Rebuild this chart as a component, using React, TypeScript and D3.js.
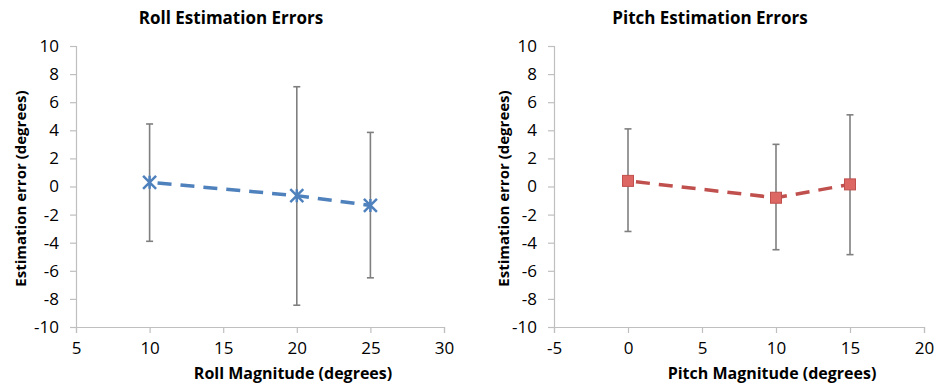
import { useEffect, useRef } from 'react';
import * as d3 from 'd3';

// Roll panel
const rollMagnitudes = [10, 20, 25];
const rollMeans = [0.3, -0.65, -1.35];
const rollUpper = [4.45, 7.1, 3.85];
const rollLower = [-3.9, -8.45, -6.5];

// Pitch panel
const pitchMagnitudes = [0, 10, 15];
const pitchMeans = [0.4, -0.8, 0.15];
const pitchUpper = [4.1, 3.0, 5.1];
const pitchLower = [-3.2, -4.5, -4.85];

const yTicks = [-10, -8, -6, -4, -2, 0, 2, 4, 6, 8, 10];
const rollXTicks = [5, 10, 15, 20, 25, 30];
const pitchXTicks = [-5, 0, 5, 10, 15, 20];

const FONT = '"Open Sans", "Liberation Sans", sans-serif';

interface PanelCfg {
    left: number;
    right: number;
    title: string;
    xLabel: string;
    xDomain: [number, number];
    xTicks: number[];
    xs: number[];
    means: number[];
    upper: number[];
    lower: number[];
    color: string;
    marker: 'star' | 'square';
}

export default function App() {
    const svgRef = useRef<SVGSVGElement>(null);

    useEffect(() => {
        if (!svgRef.current) return;
        const svg = d3.select(svgRef.current);
        svg.selectAll('*').remove();

        const top = 46;
        const bottom = 327;

        const panels: PanelCfg[] = [
            {
                left: 76, right: 444, title: 'Roll Estimation Errors', xLabel: 'Roll Magnitude (degrees)',
                xDomain: [5, 30], xTicks: rollXTicks, xs: rollMagnitudes,
                means: rollMeans, upper: rollUpper, lower: rollLower,
                color: '#4f81bd', marker: 'star'
            },
            {
                left: 554, right: 924, title: 'Pitch Estimation Errors', xLabel: 'Pitch Magnitude (degrees)',
                xDomain: [-5, 20], xTicks: pitchXTicks, xs: pitchMagnitudes,
                means: pitchMeans, upper: pitchUpper, lower: pitchLower,
                color: '#c0504d', marker: 'square'
            }
        ];

        panels.forEach((p, pi) => {
            const x = d3.scaleLinear().domain(p.xDomain).range([p.left, p.right]);
            const y = d3.scaleLinear().domain([-10, 10]).range([bottom, top]);
            const g = svg.append('g');
            const mid = (p.left + p.right) / 2;

            // Title
            g.append('text')
                .attr('x', mid - 29)
                .attr('y', 24)
                .attr('text-anchor', 'middle')
                .attr('font-family', FONT)
                .attr('font-weight', 700)
                .attr('font-size', '17px')
                .attr('fill', '#000')
                .text(p.title);

            // Y axis
            g.append('g')
                .attr('transform', `translate(${p.left},0)`)
                .call(d3.axisLeft(y).tickValues(yTicks).tickSize(6).tickPadding(11).tickFormat(d => String(d)))
                .call(a => a.select('.domain').attr('stroke', '#bfbfbf').attr('stroke-width', 1.2))
                .call(a => a.selectAll('.tick line').attr('stroke', '#bfbfbf').attr('stroke-width', 1.2))
                .call(a => a.selectAll('.tick text')
                    .attr('fill', '#000')
                    .attr('font-family', FONT)
                    .attr('font-size', '17px'));

            // X axis
            g.append('g')
                .attr('transform', `translate(0,${bottom})`)
                .call(d3.axisBottom(x).tickValues(p.xTicks).tickSize(6).tickPadding(9).tickFormat(d => String(d)))
                .call(a => a.select('.domain').attr('stroke', '#bfbfbf').attr('stroke-width', 1.2))
                .call(a => a.selectAll('.tick line').attr('stroke', '#bfbfbf').attr('stroke-width', 1.2))
                .call(a => a.selectAll('.tick text')
                    .attr('fill', '#000')
                    .attr('font-family', FONT)
                    .attr('font-size', '17px'));

            // Axis titles
            g.append('text')
                .attr('x', mid + 33)
                .attr('y', 379)
                .attr('text-anchor', 'middle')
                .attr('font-family', FONT)
                .attr('font-weight', 700)
                .attr('font-size', '16px')
                .text(p.xLabel);

            const yLabelX = pi === 0 ? 26 : 509;
            g.append('text')
                .attr('transform', `translate(${yLabelX},${(top + bottom) / 2 + 2}) rotate(-90)`)
                .attr('text-anchor', 'middle')
                .attr('font-family', FONT)
                .attr('font-weight', 700)
                .attr('font-size', '15px')
                .text('Estimation error (degrees)');

            const pts = p.xs.map((v, i) => ({ x: v, m: p.means[i], hi: p.upper[i], lo: p.lower[i] }));

            // Error bars
            const bars = g.selectAll('.err').data(pts).enter().append('g').attr('class', 'err');
            bars.append('line')
                .attr('x1', d => x(d.x)).attr('x2', d => x(d.x))
                .attr('y1', d => y(d.hi)).attr('y2', d => y(d.lo))
                .attr('stroke', '#7f7f7f').attr('stroke-width', 1.6);
            bars.append('line')
                .attr('x1', d => x(d.x) - 3.5).attr('x2', d => x(d.x) + 3.5)
                .attr('y1', d => y(d.hi)).attr('y2', d => y(d.hi))
                .attr('stroke', '#7f7f7f').attr('stroke-width', 1.6);
            bars.append('line')
                .attr('x1', d => x(d.x) - 3.5).attr('x2', d => x(d.x) + 3.5)
                .attr('y1', d => y(d.lo)).attr('y2', d => y(d.lo))
                .attr('stroke', '#7f7f7f').attr('stroke-width', 1.6);

            // Dashed line
            const line = d3.line<typeof pts[0]>().x(d => x(d.x)).y(d => y(d.m));
            g.append('path')
                .datum(pts)
                .attr('d', line)
                .attr('fill', 'none')
                .attr('stroke', p.color)
                .attr('stroke-width', 3.5)
                .attr('stroke-dasharray', '14 9')
                .attr('stroke-dashoffset', -8);

            // Markers
            if (p.marker === 'star') {
                const r = 6.5;
                g.selectAll('.mk').data(pts).enter().append('path')
                    .attr('class', 'mk')
                    .attr('d', d => {
                        const cx = x(d.x), cy = y(d.m);
                        return `M${cx - r},${cy - r}L${cx + r},${cy + r}M${cx - r},${cy + r}L${cx + r},${cy - r}M${cx},${cy - r}L${cx},${cy + r}`;
                    })
                    .attr('stroke', p.color)
                    .attr('stroke-width', 2.5)
                    .attr('fill', 'none');
            } else {
                const s = 11;
                g.selectAll('.mk').data(pts).enter().append('rect')
                    .attr('class', 'mk')
                    .attr('x', d => x(d.x) - s / 2)
                    .attr('y', d => y(d.m) - s / 2)
                    .attr('width', s)
                    .attr('height', s)
                    .attr('fill', '#dc6763')
                    .attr('stroke', '#c0504d')
                    .attr('stroke-width', 1);
            }
        });
    }, []);

    return (
        <svg
            ref={svgRef}
            width={936}
            height={389}
            style={{ position: 'absolute', left: 0, top: 0, background: '#fff' }}
        />
    );
}
